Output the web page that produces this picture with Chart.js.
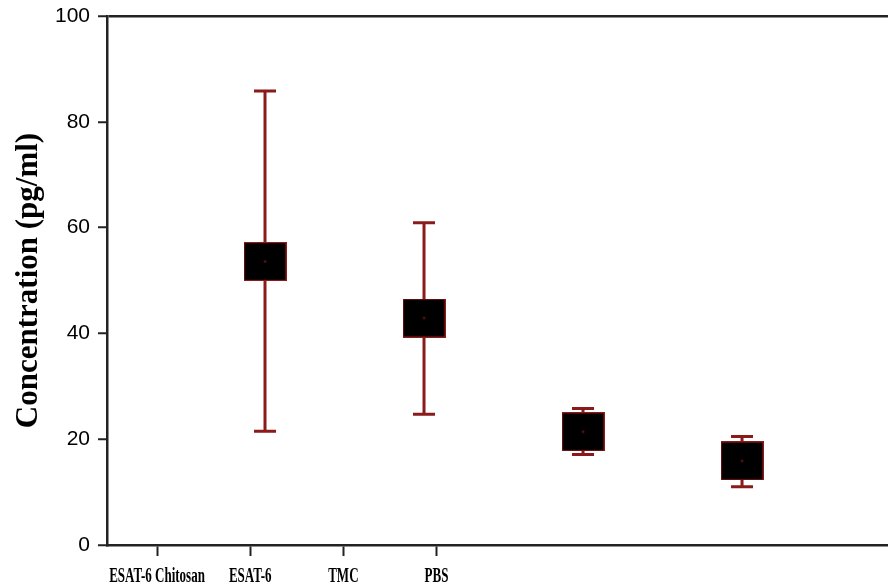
<!DOCTYPE html>
<html>
<head>
<meta charset="utf-8">
<script src="https://cdn.jsdelivr.net/npm/chart.js@4/dist/chart.umd.min.js"></script>
<style>
  html, body { margin: 0; padding: 0; background: #fff; }
  #wrap { width: 888px; height: 586px; }
</style>
</head>
<body>
<div id="wrap"><canvas id="conc"></canvas></div>
<script>
const categories = ["ESAT-6 Chitosan", "ESAT-6", "TMC", "PBS"];
const means = [53.6, 42.9, 21.4, 15.9];
const upper = [85.8, 60.9, 25.8, 20.5];
const lower = [21.5, 24.7, 17.1, 11.0];
const yTicks = [0, 20, 40, 60, 80, 100];

const red = "#8b1a1a";

// square symbol (black with thin red edge and a red dot)
const marker = document.createElement("canvas");
marker.width = 43;
marker.height = 39;
const m = marker.getContext("2d");
m.fillStyle = "#000";
m.fillRect(0, 0, 43, 39);
m.strokeStyle = red;
m.lineWidth = 1.2;
m.strokeRect(0.6, 0.6, 41.8, 37.8);
m.fillStyle = red;
m.fillRect(20.5, 18.5, 2, 2);

// error bars drawn behind the symbols
const errorBars = {
  id: "errorBars",
  beforeDatasetsDraw(chart) {
    const { ctx, scales: { x, y } } = chart;
    ctx.save();
    ctx.strokeStyle = red;
    ctx.lineWidth = 3;
    means.forEach((v, i) => {
      const px = x.getPixelForValue(i);
      const hi = y.getPixelForValue(upper[i]);
      const lo = y.getPixelForValue(lower[i]);
      ctx.beginPath();
      ctx.moveTo(px, hi);
      ctx.lineTo(px, lo);
      ctx.moveTo(px - 11, hi);
      ctx.lineTo(px + 11, hi);
      ctx.moveTo(px - 11, lo);
      ctx.lineTo(px + 11, lo);
      ctx.stroke();
    });
    ctx.restore();
  },
};

// narrow bold category labels under the x2 ticks
const narrowLabels = {
  id: "narrowLabels",
  afterDraw(chart) {
    const { ctx, scales: { x2 } } = chart;
    ctx.save();
    ctx.fillStyle = "#000";
    ctx.font = "bold 20px 'Liberation Serif'";
    ctx.textAlign = "center";
    ctx.textBaseline = "middle";
    categories.forEach((c, i) => {
      ctx.save();
      ctx.translate(x2.getPixelForValue(i), x2.top + 32);
      ctx.scale(0.65, 1);
      ctx.fillText(c, 0, 0);
      ctx.restore();
    });
    ctx.restore();
  },
};

new Chart(document.getElementById("conc"), {
  type: "scatter",
  data: {
    datasets: [
      {
        label: "Concentration",
        data: means.map((v, i) => ({ x: i, y: v })),
        pointStyle: marker,
        pointRadius: 20,
        pointHoverRadius: 20,
      },
    ],
  },
  options: {
    responsive: true,
    maintainAspectRatio: false,
    animation: false,
    layout: { autoPadding: false, padding: { top: 16, right: 0, left: 0, bottom: 0 } },
    plugins: {
      legend: { display: false },
      tooltip: { enabled: false },
    },
    scales: {
      x: {
        type: "linear",
        display: false,
        min: -0.9937,
        max: 3.918,
      },
      x2: {
        type: "linear",
        position: "bottom",
        min: -0.537,
        max: 7.846,
        afterBuildTicks(scale) {
          scale.ticks = categories.map((c, i) => ({ value: i }));
        },
        afterFit(scale) {
          scale.height = 41;
          scale.paddingLeft = 0;
          scale.paddingRight = 0;
        },
        border: { display: true, color: "#222", width: 2.5 },
        grid: {
          display: true,
          drawOnChartArea: false,
          drawTicks: true,
          tickLength: 11,
          tickColor: "#222",
          tickWidth: 2,
        },
        ticks: { display: false },
      },
      y: {
        min: 0,
        max: 100,
        afterBuildTicks(scale) {
          scale.ticks = yTicks.map((v) => ({ value: v }));
        },
        afterFit(scale) {
          scale.width = 107;
          scale.paddingTop = 0;
          scale.paddingBottom = 0;
        },
        border: { display: true, color: "#222", width: 2.5 },
        grid: {
          drawTicks: true,
          tickLength: 9,
          tickColor: "#222",
          tickWidth: 2,
          lineWidth: 2.5,
          color: (ctx) => (ctx.tick && ctx.tick.value === 100 ? "#222" : "rgba(0,0,0,0)"),
        },
        ticks: {
          padding: 8,
          color: "#000",
          font: { family: "Liberation Sans", size: 21 },
        },
        title: {
          display: true,
          text: "Concentration (pg/ml)",
          color: "#000",
          padding: { top: 10, bottom: 0 },
          font: { family: "Liberation Serif", size: 31, weight: "bold" },
        },
      },
    },
  },
  plugins: [errorBars, narrowLabels],
});
</script>
</body>
</html>
